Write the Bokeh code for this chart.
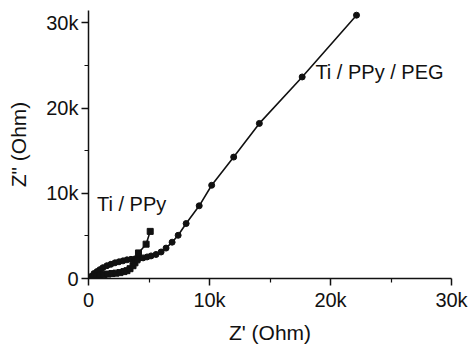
from bokeh.plotting import figure
from bokeh.models import FixedTicker, Range1d, Label
from bokeh.embed import file_html
from bokeh.resources import INLINE

# Ti / PPy / PEG series (Z', Z'') in Ohm
peg_zr = [0, 200, 450, 700, 940, 1190, 1520, 1850, 2190, 2520, 2850, 3180, 3510,
          3840, 4180, 4510, 4840, 5170, 5580, 6000, 6410, 6910, 7410, 8070, 9150,
          10180, 12000, 14120, 17660, 22150]
peg_zi = [0, 230, 580, 810, 1040, 1270, 1500, 1670, 1840, 1960, 2070, 2190, 2250,
          2300, 2360, 2420, 2530, 2650, 2820, 3110, 3570, 4260, 5070, 6450, 8530,
          10940, 14250, 18200, 23650, 30900]

# Ti / PPy series (Z', Z'') in Ohm
ppy_zr = [0, 200, 450, 700, 940, 1280, 1610, 1940, 2270, 2600, 2930, 3180, 3430,
          3680, 3840, 4010, 4130, 4760, 5100]
ppy_zi = [0, 120, 230, 350, 400, 460, 520, 580, 630, 690, 810, 920, 1150,
          1500, 1840, 2190, 3000, 4030, 5530]

series_labels = ["Ti / PPy / PEG", "Ti / PPy"]
x_ticks = [0, 10000, 20000, 30000]
x_minor = [5000, 15000, 25000]
x_tick_labels = ["0", "10k", "20k", "30k"]
y_ticks = [0, 10000, 20000, 30000]
y_minor = [5000, 15000, 25000]
y_tick_labels = ["0", "10k", "20k", "30k"]

INK = "#111111"
FONT = "Liberation Sans"

p = figure(width=472, height=346, output_backend="svg", toolbar_location=None,
           x_range=Range1d(0, 30000), y_range=Range1d(0, 31450),
           min_border_left=88, min_border_bottom=63, min_border_top=10,
           min_border_right=21)
p.outline_line_color = None
p.xgrid.visible = False
p.ygrid.visible = False
p.background_fill_color = "white"
p.border_fill_color = "white"

for ax, ticks, minor, labels in ((p.xaxis[0], x_ticks, x_minor, x_tick_labels),
                                 (p.yaxis[0], y_ticks, y_minor, y_tick_labels)):
    ax.ticker = FixedTicker(ticks=ticks, minor_ticks=minor)
    ax.major_label_overrides = {float(t): l for t, l in zip(ticks, labels)}
    ax.axis_line_color = INK
    ax.axis_line_width = 1.5
    ax.major_tick_line_color = INK
    ax.major_tick_line_width = 1.5
    ax.major_tick_out = 7
    ax.major_tick_in = 0
    ax.minor_tick_line_color = INK
    ax.minor_tick_line_width = 1.2
    ax.minor_tick_out = 4
    ax.minor_tick_in = 0
    ax.major_label_text_font = FONT
    ax.major_label_text_font_size = "20px"
    ax.major_label_text_color = INK
    ax.axis_label_text_font = FONT
    ax.axis_label_text_font_size = "21px"
    ax.axis_label_text_font_style = "normal"
    ax.axis_label_text_color = INK

p.xaxis.axis_label = "Z' (Ohm)"
p.yaxis.axis_label = 'Z" (Ohm)'
p.xaxis.major_label_standoff = 3
p.yaxis.major_label_standoff = 3
p.xaxis.axis_label_standoff = 7
p.yaxis.axis_label_standoff = 13

p.line(peg_zr, peg_zi, line_color=INK, line_width=1.6)
p.scatter(peg_zr, peg_zi, marker="circle", size=6, fill_color=INK, line_color=INK)
p.line(ppy_zr, ppy_zi, line_color=INK, line_width=1.6)
p.scatter(ppy_zr, ppy_zi, marker="square", size=6, fill_color=INK, line_color=INK)

p.add_layout(Label(x=18750, y=24200, text=series_labels[0], text_font=FONT,
                   text_font_size="20px", text_color=INK, text_baseline="middle"))
p.add_layout(Label(x=700, y=8760, text=series_labels[1], text_font=FONT,
                   text_font_size="20px", text_color=INK, text_baseline="middle"))

open("out.html", "w").write(file_html(p, INLINE))
